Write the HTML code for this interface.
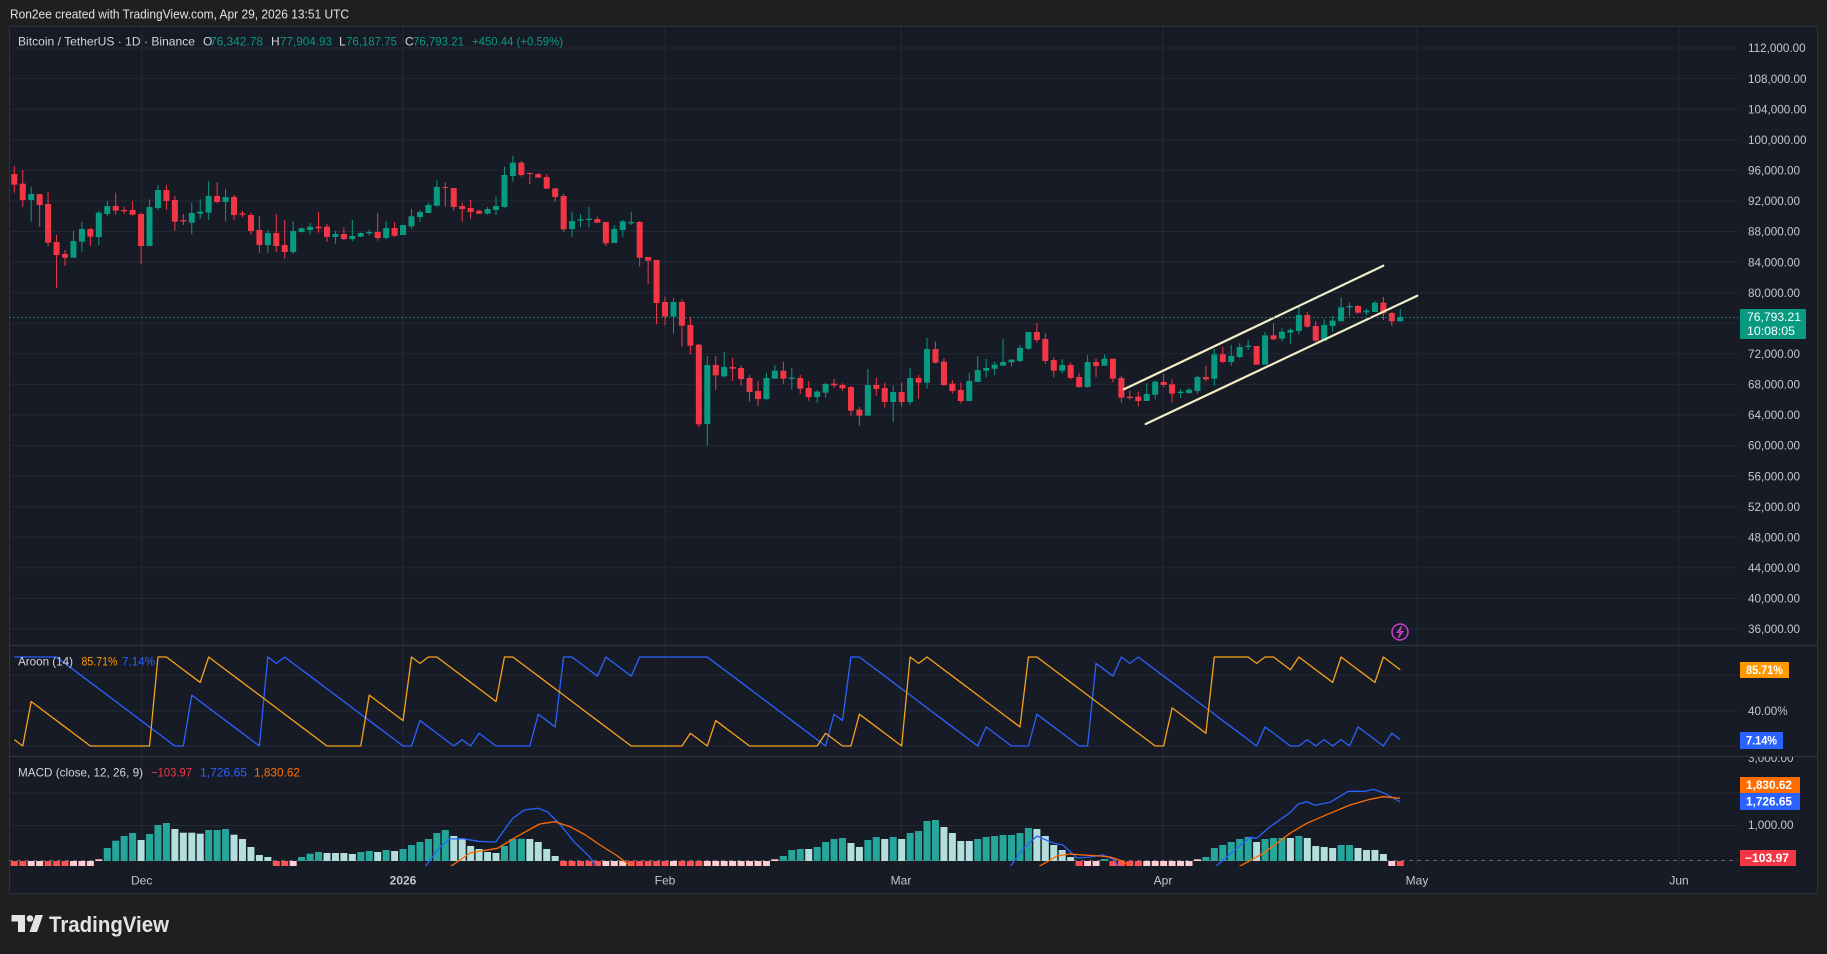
<!DOCTYPE html>
<html><head><meta charset="utf-8"><title>BTCUSDT chart</title>
<style>
html,body{margin:0;padding:0;background:#1f1f1f;width:1827px;height:954px;overflow:hidden}
svg{display:block}
text{font-family:"Liberation Sans",sans-serif}
</style></head><body>
<svg id="s" width="1827" height="954" viewBox="0 0 1827 954" xmlns="http://www.w3.org/2000/svg">
<defs>
<clipPath id="cm"><rect x="9" y="27" width="1729" height="618"/></clipPath>
<clipPath id="ca"><rect x="9" y="646" width="1729" height="110"/></clipPath>
<clipPath id="cd"><rect x="9" y="757" width="1729" height="109"/></clipPath>
<clipPath id="cdx"><rect x="1738" y="757" width="79" height="109"/></clipPath>
</defs>
<rect x="0" y="0" width="1827" height="954" fill="#1f1f1f"/>
<rect x="9.5" y="26.5" width="1808" height="867" fill="#171b26" stroke="#2e323d"/>
<g id="grid"></g>
<g id="main" clip-path="url(#cm)"></g>
<g id="ar" clip-path="url(#ca)"></g>
<g id="md" clip-path="url(#cd)"></g>

<!-- channel lines -->
<g clip-path="url(#cm)">
<line x1="1124" y1="389.3" x2="1383.3" y2="265.7" stroke="#f3eec4" stroke-width="2.2" stroke-linecap="round"/>
<line x1="1145.7" y1="424" x2="1417.3" y2="295.7" stroke="#f3eec4" stroke-width="2.2" stroke-linecap="round"/>
<line x1="9" y1="317.5" x2="1738" y2="317.5" stroke="#089981" stroke-width="1" stroke-dasharray="1.5,2.5"/>
</g>

<!-- lightning icon -->
<circle cx="1400" cy="632" r="8" fill="none" stroke="#c840d0" stroke-width="1.5"/>
<path d="M1401.5 626.5 L1397 632.5 H1400.5 L1398.5 637.5 L1403 631.5 H1399.5 Z" fill="none" stroke="#c840d0" stroke-width="1.1" stroke-linejoin="round"/>

<!-- header -->
<text x="10" y="18.5" font-size="12.5" fill="#e0e0e0" textLength="339" lengthAdjust="spacingAndGlyphs">Ron2ee created with TradingView.com, Apr 29, 2026 13:51 UTC</text>

<!-- legend -->
<g font-size="12">
<text x="18" y="45.5" fill="#d1d4dc" textLength="177" lengthAdjust="spacingAndGlyphs">Bitcoin / TetherUS · 1D · Binance</text>
<text x="203" y="45.5" fill="#d1d4dc">O</text>
<text x="210" y="45.5" fill="#089981" textLength="53" lengthAdjust="spacingAndGlyphs">76,342.78</text>
<text x="271" y="45.5" fill="#d1d4dc">H</text>
<text x="280" y="45.5" fill="#089981" textLength="52" lengthAdjust="spacingAndGlyphs">77,904.93</text>
<text x="339" y="45.5" fill="#d1d4dc">L</text>
<text x="346" y="45.5" fill="#089981" textLength="51" lengthAdjust="spacingAndGlyphs">76,187.75</text>
<text x="405" y="45.5" fill="#d1d4dc">C</text>
<text x="413" y="45.5" fill="#089981" textLength="51" lengthAdjust="spacingAndGlyphs">76,793.21</text>
<text x="472" y="45.5" fill="#089981" textLength="91" lengthAdjust="spacingAndGlyphs">+450.44 (+0.59%)</text>

<text x="18" y="665.7" fill="#d1d4dc" textLength="55" lengthAdjust="spacingAndGlyphs">Aroon (14)</text>
<text x="81.5" y="665.7" fill="#ff9800" textLength="36" lengthAdjust="spacingAndGlyphs">85.71%</text>
<text x="122" y="665.7" fill="#2962ff" textLength="33" lengthAdjust="spacingAndGlyphs">7.14%</text>

<text x="18" y="776.7" fill="#d1d4dc" textLength="125" lengthAdjust="spacingAndGlyphs">MACD (close, 12, 26, 9)</text>
<text x="151" y="776.7" fill="#f23645" textLength="41" lengthAdjust="spacingAndGlyphs">−103.97</text>
<text x="200" y="776.7" fill="#2962ff" textLength="47" lengthAdjust="spacingAndGlyphs">1,726.65</text>
<text x="254" y="776.7" fill="#ff6d00" textLength="46" lengthAdjust="spacingAndGlyphs">1,830.62</text>
</g>

<!-- price axis -->
<g font-size="11.7" fill="#c3c6ce">
<text x="1748" y="52.2">112,000.00</text>
<text x="1748" y="82.8">108,000.00</text>
<text x="1748" y="113.4">104,000.00</text>
<text x="1748" y="143.9">100,000.00</text>
<text x="1748" y="174.5">96,000.00</text>
<text x="1748" y="205.1">92,000.00</text>
<text x="1748" y="235.7">88,000.00</text>
<text x="1748" y="266.3">84,000.00</text>
<text x="1748" y="296.8">80,000.00</text>
<text x="1748" y="358">72,000.00</text>
<text x="1748" y="388.6">68,000.00</text>
<text x="1748" y="419.2">64,000.00</text>
<text x="1748" y="449.7">60,000.00</text>
<text x="1748" y="480.3">56,000.00</text>
<text x="1748" y="510.9">52,000.00</text>
<text x="1748" y="541.5">48,000.00</text>
<text x="1748" y="572.1">44,000.00</text>
<text x="1748" y="602.6">40,000.00</text>
<text x="1748" y="633.2">36,000.00</text>
<text x="1748" y="715.2">40.00%</text>
<text x="1748" y="749">0.00%</text>
<text x="1748" y="829.2">1,000.00</text>
<text x="1748" y="762" clip-path="url(#cdx)">3,000.00</text>
</g>

<!-- price label -->
<rect x="1740" y="309" width="66" height="30" fill="#089981" rx="1"/>
<text x="1747" y="321" font-size="11.7" fill="#ffffff" textLength="54" lengthAdjust="spacingAndGlyphs">76,793.21</text>
<text x="1747" y="335" font-size="11.7" fill="#ffffff" textLength="48" lengthAdjust="spacingAndGlyphs">10:08:05</text>

<!-- indicator labels -->
<rect x="1740" y="662" width="49" height="16" fill="#ff9800"/>
<text x="1746" y="674.2" font-size="11.5" font-weight="bold" fill="#ffffff" textLength="37" lengthAdjust="spacingAndGlyphs">85.71%</text>
<rect x="1740" y="732" width="43" height="17" fill="#2962ff"/>
<text x="1746" y="744.7" font-size="11.5" font-weight="bold" fill="#ffffff" textLength="31" lengthAdjust="spacingAndGlyphs">7.14%</text>
<rect x="1740" y="777" width="60" height="16" fill="#ff6d00"/>
<text x="1746" y="789.2" font-size="11.5" font-weight="bold" fill="#ffffff" textLength="46" lengthAdjust="spacingAndGlyphs">1,830.62</text>
<rect x="1740" y="793" width="60" height="17" fill="#2962ff"/>
<text x="1746" y="805.7" font-size="11.5" font-weight="bold" fill="#ffffff" textLength="46" lengthAdjust="spacingAndGlyphs">1,726.65</text>
<rect x="1740" y="850" width="56" height="16" fill="#f23645"/>
<text x="1745" y="862.2" font-size="11.5" font-weight="bold" fill="#ffffff" textLength="44" lengthAdjust="spacingAndGlyphs">−103.97</text>

<!-- time axis -->
<g font-size="12" fill="#c3c6ce" text-anchor="middle">
<text x="141.7" y="884.5">Dec</text>
<text x="403" y="884.5" font-weight="bold">2026</text>
<text x="665" y="884.5">Feb</text>
<text x="901" y="884.5">Mar</text>
<text x="1163" y="884.5">Apr</text>
<text x="1417" y="884.5">May</text>
<text x="1679" y="884.5">Jun</text>
</g>

<!-- logo -->
<g fill="#e3e3e3">
<path d="M11.5 915 H25 V932 H18 V921.5 H11.5 Z"/>
<circle cx="30" cy="918.5" r="3.3"/>
<path d="M35.5 915 H43 L37 932 H29.5 Z"/>
</g>
<text x="49" y="932" font-size="22" font-weight="bold" fill="#e3e3e3" textLength="120" lengthAdjust="spacingAndGlyphs">TradingView</text>
</svg>
<script>
(function(){
var NS='http://www.w3.org/2000/svg';
function el(p,tag,a){var e=document.createElementNS(NS,tag);for(var k in a)e.setAttribute(k,a[k]);p.appendChild(e);return e;}
var grid=document.getElementById('grid');
var i,y;
for(i=0;i<20;i++){y=48+i*30.58;el(grid,'line',{x1:9,y1:y,x2:1738,y2:y,stroke:'#242835','stroke-width':1});}
[675,711,746].forEach(function(v){el(grid,'line',{x1:9,y1:v,x2:1738,y2:v,stroke:'#242835','stroke-width':1});});
[793,825.5].forEach(function(v){el(grid,'line',{x1:9,y1:v,x2:1738,y2:v,stroke:'#242835','stroke-width':1});});
[141.7,403,665,901,1163,1417,1679].forEach(function(v){el(grid,'line',{x1:v,y1:27,x2:v,y2:866,stroke:'#242835','stroke-width':1});});
el(grid,'line',{x1:9,y1:645.5,x2:1817,y2:645.5,stroke:'#30343f','stroke-width':1.2});
el(grid,'line',{x1:9,y1:756.5,x2:1817,y2:756.5,stroke:'#30343f','stroke-width':1.2});
el(grid,'line',{x1:9,y1:860.5,x2:1738,y2:860.5,stroke:'#5d606b','stroke-width':1,'stroke-dasharray':'4,4'});

var A=[
['r',102,134,78,158],['r',131,180,90,200],['g',162,180,141,245],['r',162,195,162,260],['r',192,308,156,318],
['r',306,345,285,443],['r',342,353,330,378],['g',303,353,272,353],['g',267,305,246,335],['r',267,290,264,318],
['g',218,291,212,315],['g',198,222,183,228],['r',198,212,158,224],['r',210,214,200,222],['r',210,224,183,226],
['r',222,318,218,372],['g',201,318,178,318],['g',150,204,135,210],['r',150,183,135,210],['r',180,245,168,272],
['r',240,244,222,255],['g',219,248,188,282],['g',215,221,178,237],['g',168,218,123,240],['r',168,186,126,190],
['g',171,186,147,245],['r',171,225,165,240],['r',220,224,213,232],['r',225,273,218,284],['r',270,315,228,338],
['g',279,315,270,338],['r',279,318,222,336],['r',315,336,240,356],['g',273,336,243,341],['g',265,276,262,278],
['g',260,270,249,284],['r',260,265,215,278],['r',260,291,252,306],['g',282,291,272,311],['r',282,297,262,300],
['g',288,297,240,304],['g',279,290,277,291],['g',276,280,268,287],['r',276,294,219,302],['g',264,294,243,298],
['r',264,287,246,291],['g',255,285,255,285],['g',229,259,207,266],['g',216,231,210,245],['g',195,219,188,219],
['g',141,197,120,200],['r',141,144,126,200],['r',144,201,144,212],['r',198,207,188,245],['r',204,216,180,237],
['r',212,221,210,222],['g',207,221,201,224],['g',198,210,170,225],['g',105,201,80,203],['g',68,108,47,125],
['r',68,105,63,110],['r',99,102,97,132],['r',102,113,99,113],['r',111,146,102,146],['r',145,171,145,185],
['r',168,268,162,275],['g',243,267,215,290],['g',238,242,222,262],['g',236,240,201,262],['r',237,248,230,248],
['r',246,310,246,318],['g',267,309,255,309],['g',244,270,239,290],['g',246,250,215,255],['r',246,353,243,380],
['r',351,362,351,432],['r',360,489,360,553],['r',486,530,470,556],['g',486,530,474,581],['r',486,557,478,620],
['r',555,617,530,643],['r',614,853,612,862],['g',675,852,648,916],['r',675,706,648,750],['g',681,709,636,713],
['r',681,686,654,723],['r',684,717,676,737],['r',714,756,705,785],['r',753,777,723,798],['g',714,777,699,781],
['g',692,716,675,716],['r',692,716,665,731],['g',713,717,684,749],['r',714,746,705,762],['r',744,771,723,782],
['g',755,771,750,788],['g',732,758,728,773],['r',731,736,717,744],['r',735,745,730,752],['r',741,812,738,827],
['r',809,827,800,857],['g',735,827,687,827],['r',735,747,713,767],['r',744,786,728,803],['g',756,786,737,845],
['r',756,786,728,800],['g',714,786,684,795],['r',714,728,705,776],['g',627,728,594,746],['r',627,668,605,671],
['r',665,735,654,738],['r',731,753,720,760],['r',750,783,728,790],['g',723,783,698,783],['g',690,726,648,726],
['g',684,692,657,712]
];
var B=[
['g',344,356,335,375],['g',336,347,267,347],['g',329,337,327,350],['g',294,333,285,337],['g',246,296,246,300],
['r',246,270,219,278],['r',267,333,249,342],['r',330,362,322,382],['g',345,362,328,370],['r',345,384,338,388],
['r',381,411,368,413],['g',336,411,316,413],['r',336,348,325,381],['g',326,347,313,347],['r',326,386,326,396],
['r',384,443,377,458],['r',440,444,422,449],['r',440,453,425,469],['g',432,453,400,453],['g',395,434,392,448],
['r',396,405,372,412],['r',403,431,388,457],['g',425,429,418,443],['g',419,429,415,431],['g',381,423,377,432],
['r',381,388,348,395],['g',313,386,296,408],['r',313,336,290,340],['g',318,336,285,347],['g',291,321,280,325],
['g',287,291,270,300],['r',288,344,288,344],['g',256,344,246,344],['r',256,268,220,270],['g',245,266,235,274],
['g',240,248,235,281],['g',195,243,167,253],['r',195,230,186,233],['r',228,272,213,275],['g',225,272,208,272],
['g',212,228,198,245],['g',172,214,142,214],['g',168,172,158,198],['r',168,188,165,191],['g',182,187,176,195],
['g',158,186,153,186],['r',158,190,141,210],['r',189,214,186,228],['g',201,214,177,214]
];
var D=A.concat(B.map(function(c){return [c[0],c[1]+330,c[2]+330,c[3]+330,c[4]+330];}));
var X0=14.3,DX=8.451;
function yz(v){return 140+v/3;}
var main=document.getElementById('main');
D.forEach(function(c,k){
  var x=X0+k*DX, col=c[0]=='g'?'#089981':'#f23645';
  var wt=yz(c[3]),wb=yz(c[4]),bt=yz(c[1]),bb=yz(c[2]);
  el(main,'rect',{x:(x-0.5).toFixed(2),y:wt.toFixed(2),width:1,height:Math.max(1,wb-wt).toFixed(2),fill:col});
  el(main,'rect',{x:(x-3).toFixed(2),y:bt.toFixed(2),width:6,height:Math.max(1,bb-bt).toFixed(2),fill:col});
});

var padH=[50,20,60,62,64,66,68,70,72,45,50,55,60,65];
var padL=[110,100,112,115,118,120,122,124,126,100,105,110,115,120];
var H=padH.concat(D.map(function(c){return c[3];}));
var L=padL.concat(D.map(function(c){return c[4];}));
var up=[],dn=[];
for(i=14;i<H.length;i++){
  var hj=i-14,lj=i-14;
  for(var j=i-14;j<=i;j++){ if(H[j]<=H[hj])hj=j; if(L[j]>=L[lj])lj=j; }
  var x=X0+(i-14)*DX;
  up.push(x.toFixed(2)+','+(746-0.89*100*(14-(i-hj))/14).toFixed(2));
  dn.push(x.toFixed(2)+','+(746-0.89*100*(14-(i-lj))/14).toFixed(2));
}
var ar=document.getElementById('ar');
el(ar,'polyline',{points:dn.join(' '),fill:'none',stroke:'#2962ff','stroke-width':1.3,'stroke-linejoin':'round'});
el(ar,'polyline',{points:up.join(' '),fill:'none',stroke:'#f7a21b','stroke-width':1.3,'stroke-linejoin':'round'});

var HT="R R P P R R R P P P p T848 T840.7 T836 T833 L840 T834 T825 T823 L829 L832.7 L832.7 L833.7 T830 T830 T829 L834.7 L839 L847 L855 L857 R R P T857 T853.7 T852 L853 L853 L853 L854 T852 T851 L852 T850 L851 T849 T845 T842 T839 T833 T830 L836 L839 L846 L849 L852 L853 T846 T839 T838.7 L839 L842 L849 L856 R R R R R P P P R R R R R P R R R P P P P P P P P p T856 T850 T849 L849 T847 T842 T839 T838 L843 L847 T840 T837 L839 T837 L839 T833 T831 T821 T820 L827 L833 L841 L841 T839 T837 T836 T835 T835 T833 T828 L829 L836 L845 L850 L857 R P P T859 R R R R P P P P P P p T857 T848 T845 T842 T839 T837 L842 T839 T838 T838 L838 T836 L838 L846 L847 L848 T845 T845 L848 L850 L850 L854 P R".split(' ');
var md=document.getElementById('md');
var cols={T:'#26a69a',L:'#b2dfdb',R:'#ff5252',P:'#ffcdd2',p:'#ffcdd2'};
HT.forEach(function(t,k){
  var x=X0+k*DX, ty=t.charAt(0), top, bot;
  if(ty=='R'||ty=='P'){top=861;bot=867;}
  else if(ty=='p'){top=859.3;bot=861;}
  else {top=parseFloat(t.slice(1));bot=861;}
  el(md,'rect',{x:(x-3.5).toFixed(2),y:top,width:7,height:(bot-top).toFixed(2),fill:cols[ty]});
});
function pl(pts,col){el(md,'polyline',{points:pts,fill:'none',stroke:col,'stroke-width':1.3,'stroke-linejoin':'round'});}
pl("424.8,867 440,847 449.7,839 463,838.7 478.4,841.3 495.6,842 512.8,818.3 524.3,810 537.7,808.3 547.3,811.7 560.6,825 574,841.7 589.4,856.7 597,867",'#2962ff');
pl("449.7,867 470.7,852.7 497.5,848.3 516.6,836.7 539.6,824 555,821.7 570.2,826.7 585.5,835 600,845 616,855 632,867",'#ff6d00');
pl("1010,867 1022,850 1037,836 1053,843 1063,845 1077,858 1090,857 1103,855 1115,860 1118,867",'#2962ff');
pl("1038,867 1057,856 1070,854 1083,855 1100,856 1110,857 1122,861 1130,867",'#ff6d00');
pl("1215,867 1250,837.3 1256.7,838.3 1270,826.7 1290,812.7 1298.3,804 1306.7,801.7 1315,805.3 1330,802.3 1348.3,791.3 1365,791.3 1373.3,789.3 1383.3,792.7 1400,801.7",'#2962ff');
pl("1238.3,867 1263.3,853.3 1290,833.3 1306.7,823.3 1330,813.3 1350,805 1370,799.3 1383.3,796.7 1400,798.3",'#ff6d00');
})();
</script>
</body></html>
